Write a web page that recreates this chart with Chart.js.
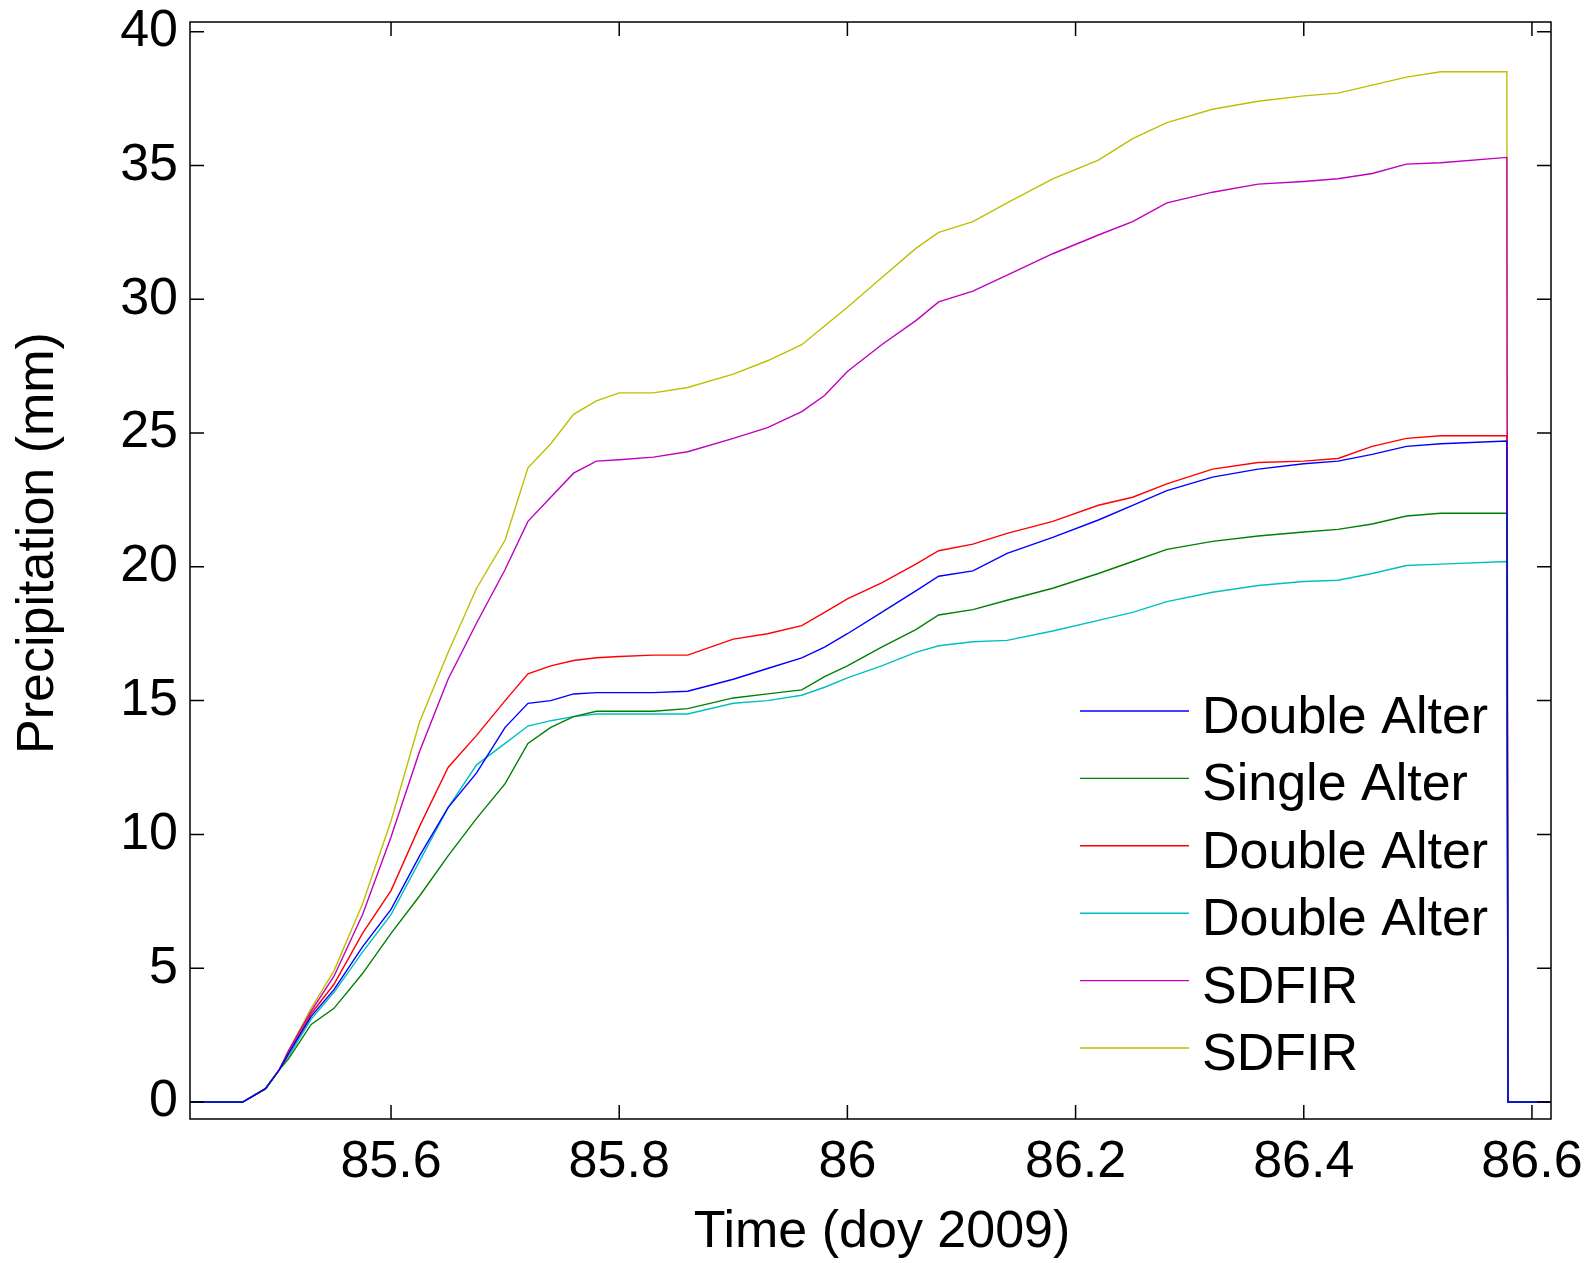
<!DOCTYPE html>
<html>
<head>
<meta charset="utf-8">
<script src="https://cdn.jsdelivr.net/npm/chart.js@4/dist/chart.umd.min.js"></script>
<style>
  html, body { margin: 0; padding: 0; background: #fff; }
  #wrap { width: 1588px; height: 1263px; }
</style>
</head>
<body>
<div id="wrap"><canvas id="precipChart" width="1588" height="1263"></canvas></div>
<script>
// time axis (day of year 2009)
var time = [85.424, 85.470, 85.490, 85.502, 85.510, 85.530, 85.550, 85.575, 85.600, 85.625,
            85.650, 85.675, 85.700, 85.720, 85.740, 85.760, 85.780, 85.800, 85.830, 85.860,
            85.900, 85.930, 85.960, 85.980, 86.000, 86.030, 86.060, 86.080, 86.110, 86.140,
            86.180, 86.220, 86.250, 86.280, 86.320, 86.360, 86.400, 86.430, 86.460, 86.490,
            86.520, 86.578, 86.579, 86.617];

var doubleAlter1 = [0, 0, 0.5, 1.2, 1.8, 3.2, 4.2, 5.8, 7.2, 9.2,
                    11.0, 12.3, 14.0, 14.9, 15.0, 15.25, 15.3, 15.3, 15.3, 15.35,
                    15.8, 16.2, 16.6, 17.0, 17.5, 18.3, 19.1, 19.65, 19.85, 20.5,
                    21.1, 21.75, 22.3, 22.85, 23.35, 23.65, 23.85, 23.95, 24.2, 24.5,
                    24.6, 24.7, 0, 0];
var singleAlter = [0, 0, 0.5, 1.2, 1.6, 2.9, 3.5, 4.8, 6.3, 7.7,
                   9.2, 10.6, 11.9, 13.4, 14.0, 14.4, 14.6, 14.6, 14.6, 14.7,
                   15.1, 15.25, 15.4, 15.9, 16.3, 17.0, 17.65, 18.2, 18.4, 18.75,
                   19.2, 19.75, 20.2, 20.65, 20.95, 21.15, 21.3, 21.4, 21.6, 21.9,
                   22.0, 22.0, 0, 0];
var doubleAlter2 = [0, 0, 0.5, 1.2, 1.8, 3.3, 4.4, 6.3, 7.9, 10.3,
                    12.5, 13.7, 15.0, 16.0, 16.3, 16.5, 16.6, 16.65, 16.7, 16.7,
                    17.3, 17.5, 17.8, 18.3, 18.8, 19.4, 20.1, 20.6, 20.85, 21.25,
                    21.7, 22.3, 22.6, 23.1, 23.65, 23.9, 23.95, 24.05, 24.5, 24.8,
                    24.9, 24.9, 0, 0];
var doubleAlter3 = [0, 0, 0.5, 1.2, 1.7, 3.1, 4.1, 5.6, 7.0, 9.0,
                    11.0, 12.6, 13.4, 14.05, 14.25, 14.4, 14.5, 14.5, 14.5, 14.5,
                    14.9, 15.0, 15.2, 15.5, 15.85, 16.3, 16.8, 17.05, 17.2, 17.25,
                    17.6, 18.0, 18.3, 18.7, 19.05, 19.3, 19.45, 19.5, 19.75, 20.05,
                    20.1, 20.2, 0, 0];
var sdfir1 = [0, 0, 0.5, 1.2, 1.9, 3.4, 4.7, 7.0, 9.9, 13.1,
              15.8, 17.9, 19.9, 21.7, 22.6, 23.5, 23.95, 24.0, 24.1, 24.3,
              24.8, 25.2, 25.8, 26.4, 27.3, 28.3, 29.2, 29.9, 30.3, 30.9,
              31.7, 32.4, 32.9, 33.6, 34.0, 34.3, 34.4, 34.5, 34.7, 35.05,
              35.1, 35.3, 0, 0];
var sdfir2 = [0, 0, 0.5, 1.2, 1.9, 3.5, 4.9, 7.4, 10.5, 14.2,
              16.8, 19.2, 21.0, 23.7, 24.6, 25.7, 26.2, 26.5, 26.5, 26.7,
              27.2, 27.7, 28.3, 29.0, 29.7, 30.8, 31.9, 32.5, 32.9, 33.6,
              34.5, 35.2, 36.0, 36.6, 37.1, 37.4, 37.6, 37.7, 38.0, 38.3,
              38.5, 38.5, 0, 0];

var seriesLabels = ['Double Alter', 'Single Alter', 'Double Alter', 'Double Alter', 'SDFIR', 'SDFIR'];
var seriesColors = ['#0000ff', '#008000', '#ff0000', '#00bfbf', '#bf00bf', '#bfbf00'];
var xTicks = [85.6, 85.8, 86, 86.2, 86.4, 86.6];
var xTickLabels = ['85.6', '85.8', '86', '86.2', '86.4', '86.6'];
var yTicks = [0, 5, 10, 15, 20, 25, 30, 35, 40];

var FONT = 'Liberation Sans, Arial, sans-serif';
var allSeries = [doubleAlter1, singleAlter, doubleAlter2, doubleAlter3, sdfir1, sdfir2];

var datasets = allSeries.map(function(vals, i) {
    return {
        label: seriesLabels[i],
        data: time.map(function(t, j) { return { x: t, y: vals[j] }; }),
        borderColor: seriesColors[i],
        borderWidth: 1.4,
        pointRadius: 0,
        tension: 0,
        fill: false
    };
});

// box, inward ticks, axis titles and legend (matlab style)
var framePlugin = {
    id: 'frame',
    afterDraw: function(chart) {
        var ctx = chart.ctx;
        var a = chart.chartArea;
        var xs = chart.scales.x, ys = chart.scales.y;
        var tl = 14;
        ctx.save();
        ctx.strokeStyle = '#000';
        ctx.lineWidth = 1.5;
        ctx.strokeRect(a.left, a.top, a.right - a.left, a.bottom - a.top);
        ctx.beginPath();
        xTicks.forEach(function(v) {
            var px = xs.getPixelForValue(v);
            ctx.moveTo(px, a.bottom); ctx.lineTo(px, a.bottom - tl);
            ctx.moveTo(px, a.top); ctx.lineTo(px, a.top + tl);
        });
        yTicks.forEach(function(v) {
            var py = ys.getPixelForValue(v);
            ctx.moveTo(a.left, py); ctx.lineTo(a.left + tl, py);
            ctx.moveTo(a.right, py); ctx.lineTo(a.right - tl, py);
        });
        ctx.stroke();

        // axis titles
        ctx.fillStyle = '#000';
        ctx.font = '52px ' + FONT;
        ctx.textAlign = 'center';
        ctx.textBaseline = 'alphabetic';
        ctx.fillText('Time (doy 2009)', 882, 1247);
        ctx.save();
        ctx.translate(53, 543);
        ctx.rotate(-Math.PI / 2);
        ctx.fillText('Precipitation (mm)', 0, 0);
        ctx.restore();

        // legend
        ctx.textAlign = 'left';
        chart.data.datasets.forEach(function(ds, i) {
            var y = a.top + 689 + i * 67.4;
            ctx.strokeStyle = ds.borderColor;
            ctx.lineWidth = 1.4;
            ctx.beginPath();
            ctx.moveTo(a.left + 890, y);
            ctx.lineTo(a.left + 999, y);
            ctx.stroke();
            ctx.fillText(ds.label, a.left + 1012, y + 22);
        });
        ctx.restore();
    }
};

var ctx = document.getElementById('precipChart').getContext('2d');
var precipChart = new Chart(ctx, {
    type: 'line',
    data: { datasets: datasets },
    options: {
        responsive: false,
        animation: false,
        layout: { padding: { left: 0, top: 22, right: 37, bottom: 0 } },
        plugins: {
            legend: { display: false },
            tooltip: { enabled: false }
        },
        scales: {
            x: {
                type: 'linear',
                min: 85.4238,
                max: 86.6167,
                grid: { display: false, drawTicks: false },
                border: { display: false },
                afterBuildTicks: function(scale) {
                    scale.ticks = xTicks.map(function(v) { return { value: v }; });
                },
                afterFit: function(scale) {
                    scale.height = 144;
                    scale.paddingLeft = 0;
                    scale.paddingRight = 0;
                },
                ticks: {
                    padding: 12,
                    maxRotation: 0,
                    color: '#000',
                    font: { family: FONT, size: 52 },
                    callback: function(value) {
                        var k = xTicks.indexOf(value);
                        return k >= 0 ? xTickLabels[k] : '';
                    }
                }
            },
            y: {
                min: -0.635,
                max: 40.36,
                grid: { display: false, drawTicks: false },
                border: { display: false },
                afterBuildTicks: function(scale) {
                    scale.ticks = yTicks.map(function(v) { return { value: v }; });
                },
                afterFit: function(scale) {
                    scale.width = 190;
                    scale.paddingTop = 0;
                    scale.paddingBottom = 0;
                },
                ticks: {
                    padding: 12,
                    color: '#000',
                    font: { family: FONT, size: 52 }
                }
            }
        }
    },
    plugins: [framePlugin]
});
</script>
</body>
</html>
